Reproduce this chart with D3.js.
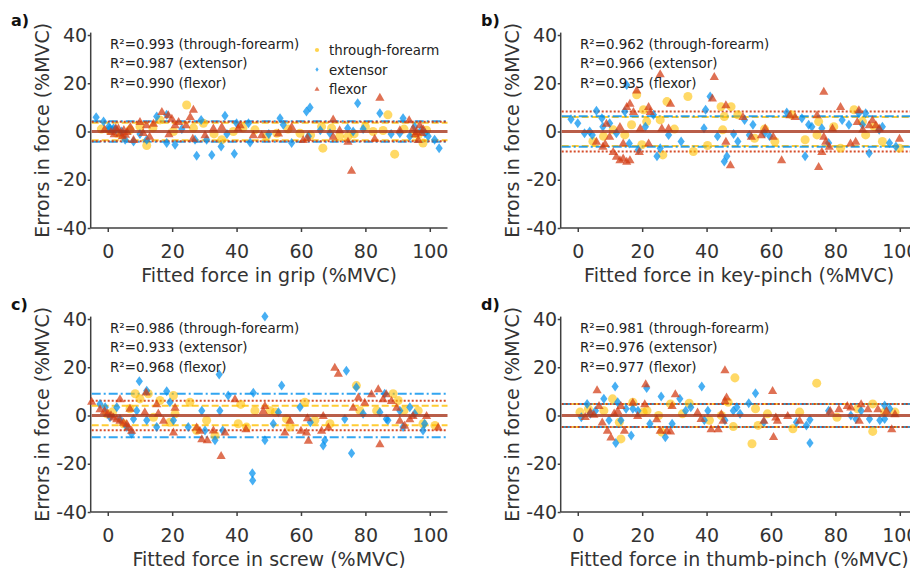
<!DOCTYPE html>
<html>
<head>
<meta charset="utf-8">
<script src="https://d3js.org/d3.v7.min.js"></script>
<style>
  body { margin: 0; background: #fff; }
  svg { font-family: "DejaVu Sans", sans-serif; display: block; }
  .axis path, .axis line { stroke: #404040; stroke-width: 1.5; }
  .axis text { fill: #333; font-size: 19px; font-family: "DejaVu Sans", sans-serif; }
</style>
</head>
<body>
<div id="chart"></div>
<script>
// ---- data: [fitted force, error] in %MVC ----
var panelNames = ["a)", "b)", "c)", "d)"];
var taskNames = ["grip", "key-pinch", "screw", "thumb-pinch"];
var seriesNames = ["through-forearm", "extensor", "flexor"];
var xTicks = [0, 20, 40, 60, 80, 100];
var yTicks = [-40, -20, 0, 20, 40];

var r2Forearm = ["0.993", "0.962", "0.986", "0.981"];
var r2Extensor = ["0.987", "0.966", "0.933", "0.976"];
var r2Flexor = ["0.990", "0.935", "0.968", "0.977"];

// limits of agreement (+/-)
var loaForearm = [3.6, 6.0, 4.0, 4.8];
var loaExtensor = [4.2, 6.3, 9.0, 4.8];
var loaFlexor = [4.0, 8.3, 6.1, 4.8];

var gripForearm = [[-2,1],[0.5,0.5],[2.8,-0.7],[4.5,-1.5],[6.9,0.7],[10,2],[12.1,-5.8],[14,1.5],[16.2,4.8],[20.4,0],[24.5,11],[26.6,1.4],[29.7,3.4],[33,-1],[35.4,-3.4],[39,0],[42,1.5],[45.7,0.7],[49.3,-2],[52.5,-0.7],[56,1],[59.7,-0.7],[63,-1.5],[66.4,2],[66.8,-6.9],[69.5,1.4],[72,-2],[74.6,-2],[76.5,-1],[80,2],[82.4,0],[85.5,0.4],[87,6.9],[89.1,-9.4],[92,1],[95,-1],[96.4,-1.4],[97.9,-4.8],[99,0.5]];
var gripExtensor = [[-3.6,5.9],[-1.3,4.1],[0.3,2],[0.7,1.4],[1.5,0.5],[1.8,1.4],[2.5,0.8],[4.3,0],[5.4,-3.4],[8,-4.1],[10,-1],[12.1,-3.4],[15.2,6.2],[18.3,6.9],[18.3,-4.8],[20.9,-5.5],[23,1],[27.1,-3.4],[27.6,-10],[29,4.8],[30.7,-3.4],[32.3,-9.7],[35.2,-6.2],[36.4,6.5],[37,-1],[39.3,-9.2],[40,3.4],[43.7,3.4],[44.2,-4.6],[50,-1],[53.5,5.5],[54.5,2.8],[57.1,-4.8],[61.7,8.3],[62.8,10],[62.3,-2],[66,0.5],[69,-0.7],[74.5,1.4],[76.2,0],[77.6,11.7],[79.3,1],[84.5,7.6],[88,-1],[90.7,-0.7],[91.7,5.5],[93.8,-2],[95.3,2],[97.4,0.7],[98.5,-0.7],[99.5,-2],[101.5,-3.4],[102.9,-6.9]];
var gripFlexor = [[-1,1],[1,0],[2,-1],[2.5,1.5],[3.3,1.4],[3.8,-0.7],[4.5,-1.8],[5,0.8],[5.5,-1.2],[6,0],[7,2],[8,-3.4],[10,4.1],[11,-0.5],[12,2.8],[13,-2],[14.2,3.4],[16.8,8.3],[18.8,6.9],[19.9,5.5],[19,-1],[20.9,2.8],[22,4.1],[24.3,2.8],[25.6,6.2],[26.6,9.2],[26.4,-2.8],[30.2,-1.4],[32.8,1.4],[35.4,2],[40.5,1.4],[41.1,2.8],[45.2,-1.4],[47.8,-1.4],[53,-0.7],[57.1,2],[60.7,-3.4],[62,-2.5],[70,5.1],[70,-2],[72,0.7],[74.6,-4.1],[75.7,-16.1],[82.9,-2.8],[84.5,14.2],[90.7,0.7],[93.6,4.8],[94.8,1.4],[95.5,-1],[95.9,0],[96.4,-3.4],[96.9,2.8],[97.5,-0.5],[98,1]];

var keyForearm = [[4.7,-4.1],[8,-2],[11,0.7],[14.6,-1.4],[16.7,2.8],[18.3,15.2],[19.9,-5.5],[20.4,9],[21.4,4.1],[25.6,4.8],[26.4,-9.7],[27.7,12.4],[30,1],[34.2,14.5],[35.9,-8.3],[40.3,-5.8],[44.5,10.3],[45,0.7],[45.5,6.2],[47.6,10.3],[49.7,6.9],[54.9,-2.8],[58,1],[61.2,-4.1],[66.4,6.9],[70.6,-3.4],[74.3,-1.4],[74.8,4.1],[79.5,2],[81.6,-6.9],[85.8,9],[88.4,4.1],[89.4,-1.4],[92,2],[94.6,-4.1],[99.9,-6.9]];
var keyExtensor = [[-2.1,5.1],[0,3.4],[2.1,-0.7],[3.7,0],[4.5,-1.5],[5.8,8.6],[7.5,5.5],[7.8,2],[9.9,3.4],[12,-0.7],[14.6,8.3],[15.2,19.3],[16,-5],[18.8,-7.6],[21,2],[23.5,6.9],[24.6,-10.3],[25.6,-6.9],[28.2,-1.4],[32.1,-4.1],[39.2,1.4],[39.7,9],[41.1,14.5],[43.4,-2],[45.5,-12.4],[46.3,-10.3],[48.4,-1],[49.7,-4.1],[51.8,4.8],[53.3,-1.4],[54.4,2.8],[58,-0.7],[59.6,-2],[64.9,7.9],[69.6,5.5],[70.6,-10.3],[71.7,2.8],[72.7,2],[75.8,1.4],[77.9,-4.8],[82.1,4.8],[84.2,2.8],[87.3,7.6],[88.4,2.8],[89.4,7.6],[90.5,-9],[93.6,0.7],[94.6,2],[96.8,-4.8],[98.8,-6.2]];
var keyFlexor = [[5.8,-4.1],[7.8,-6.2],[8.5,-5],[8.9,3.4],[9.9,-2],[11,-8.3],[12,-10.3],[13.1,-11.7],[13.1,2],[14.1,-11],[14.1,-4.8],[15.2,-12.4],[15.2,10.3],[16.2,-11.7],[16.2,11.7],[17.3,8.3],[18.3,17.2],[19.1,-8.3],[19.4,1.4],[22,-4.8],[22,10.3],[22.5,8.3],[25.6,23.9],[26.1,1.4],[28.2,1.4],[28.8,11.7],[41.8,13.8],[42.4,22.8],[46,11],[46,-4.1],[47.4,-13.8],[51.3,6.2],[53.9,-2],[57,-1.4],[58.2,1.4],[60.7,-2],[63.3,-11.7],[65.9,6.9],[67.5,6.2],[74.3,6.9],[74.8,-14.5],[75.8,-8.3],[76.4,16.6],[76.4,-2],[77,-4.1],[78.1,-6.2],[79.1,1.4],[81.6,10.3],[84.7,-4.8],[86.3,-4.1],[86.8,4.1],[87.3,9],[88.5,1],[90.5,2.8],[91.5,4.8],[92.6,2.8],[93.6,1.4],[99.9,-2.8]];

var screwForearm = [[-0.3,0.7],[1.5,1.5],[4.9,-3.4],[6.9,2.8],[8.5,9],[10,6.9],[12.6,9],[14.2,-0.7],[16.2,6.2],[19.3,-2.8],[20.4,8.3],[20.9,0.7],[25.5,5.5],[27.6,-6.2],[30.7,-2],[33.3,-8.3],[40.5,-3.4],[41.3,4.6],[43.1,-4.8],[45.7,2],[50.4,2],[52,1.4],[55.5,-1.4],[56.6,-4.8],[61.2,5.5],[64.3,-2],[69,-3.4],[77.2,12.4],[78.3,2],[83.5,2],[88.6,9],[90.2,6.2],[92,2],[96.4,2],[97.9,-3.4],[101.6,-4.1]];
var screwExtensor = [[-2.4,4.8],[-0.8,3.4],[0.7,-0.7],[2.8,3.4],[3.8,-1.4],[5.9,-4.8],[7.4,-7.6],[8,-1.4],[9,2],[9.8,14.2],[12.1,10.3],[12.1,-2],[15.2,-4.8],[18.3,10.1],[19.3,5.5],[20.4,-2],[25,-4.8],[29.2,2],[30.2,-6.2],[33.3,-10.3],[34.8,2],[34.6,17],[35.7,-6.2],[37.4,8.3],[44.9,-23.9],[45,-26.9],[45.2,9.4],[48.8,41],[48.8,-10.3],[51.4,-3.4],[53,1.4],[54,12.4],[59.7,3.4],[62.9,-2.8],[66.9,-12.4],[67.4,-10.3],[73.6,-1.4],[74.1,18.6],[75.7,-15.6],[77.2,11.7],[79.3,0.7],[84.5,1.4],[86,9],[86.5,-1.4],[87,-2],[90.7,2],[91.7,-4.8],[93.8,3.4],[95.3,0.7],[97.9,-6.2],[98.4,-3.4]];
var screwFlexor = [[-5,5.9],[-2.4,2.8],[-1,2],[0,1],[1,0.3],[1.8,-0.7],[2.8,-1.4],[3.8,-2],[3.8,6.9],[4.9,-2.8],[5.9,-3.4],[6.4,-4.8],[6.9,3],[7.4,-6.2],[11.9,9.7],[11.5,1.5],[15.2,4.8],[15.7,1],[17.3,-2],[20.4,-6.9],[20.9,3.4],[27.6,-4.8],[28.6,-6.2],[29.2,-9.7],[30.9,-10.1],[32.8,-6],[35.2,-16.6],[36.4,-6.9],[39.5,6.9],[42.9,-5.5],[48.3,2],[48.8,4.1],[55,-6.9],[56.6,-2],[60,-6.2],[61.7,-6.9],[62.3,-10.3],[62,-1],[66.4,-6.2],[66.9,0],[68.5,-4.8],[70.5,20],[71.6,17.5],[76.2,3.4],[77.8,7.6],[79.8,5.5],[81.9,9],[84,11],[84.5,-11.7],[85.5,6.9],[86.5,9],[88.1,6.2],[89.7,3.4],[90.7,-2],[92.2,-4.1],[93.8,-1.4],[94.8,0],[99,0],[102.6,-4.8]];

var thumbForearm = [[0.7,1.4],[3.3,2.7],[8.1,2],[10.8,6.9],[12.9,-2.8],[13.4,-9.7],[17.1,5.5],[20.3,1.4],[21.5,2],[25.1,0],[26.1,-6.9],[28.8,4.8],[32.5,0.7],[34.6,5.1],[40.9,-2],[44.6,0],[46.7,5.5],[48.3,-4.6],[48.8,15.6],[54.1,-11.7],[55.2,2.8],[56,-4.1],[58.9,0.7],[66.8,-5.5],[68.9,1.4],[74.2,13.4],[80.5,-0.7],[86.9,2.8],[91.6,4.8],[91.6,-6.6],[95.3,1.4],[98.5,1.4]];
var thumbExtensor = [[1.1,-0.7],[2.9,4.8],[3.9,0.7],[5.5,2],[8.1,6.9],[9.7,-2],[11.6,12],[11.8,-11.4],[12.4,5.5],[13.4,-2],[15,2.8],[16.6,-8.3],[17.1,2.8],[18.7,2],[21.4,11.4],[22.4,-3.4],[25.9,7.9],[27.2,-9],[29.3,-3.4],[31.7,6.9],[33.5,2],[35.1,3.4],[38.5,12],[39.3,-2],[40.4,2],[45.7,-2],[48.3,2],[49.4,3.4],[50.4,0.7],[53.1,5.1],[55.2,9.2],[57.8,-2.8],[67.9,-2.8],[71,-4.1],[72.1,-1.8],[72.1,-11.4],[77.9,2],[84.8,0],[86.4,-1.4],[88,2],[90.6,-1.4],[93.8,-2],[95.3,4.1],[95.3,-1.4],[96.9,2.8]];
var thumbFlexor = [[2.3,-0.5],[3.9,1.5],[5,0.5],[6,10.6],[6.6,4.1],[7.6,-2.7],[9.2,-6.2],[10.3,-9],[11.3,1],[12.4,2],[13.4,4.1],[14.5,-6.2],[17.1,5.5],[18.6,0],[20.8,4.8],[21.1,13.1],[24.5,-1.4],[25.6,-6.2],[27.7,-6.2],[28.8,-6.5],[29.3,4.1],[30.3,9],[37.2,1.4],[38.3,-1.3],[41.4,-5.5],[43.6,-5.5],[44.6,0.7],[45.1,-2],[45.7,18.9],[45.7,6.2],[46.2,7.6],[57.8,-2],[60.5,10.3],[60.8,-8.7],[61.5,-0.7],[62,-2],[65.2,0],[68.9,-2],[78.4,2],[81.1,2.8],[83.7,4.1],[84.8,3.5],[87.4,-2],[88,4.8],[90.1,2.8],[93.2,2.8],[95.9,2],[97.5,-5.5],[98.5,0.7]];

var forearmData = [gripForearm, keyForearm, screwForearm, thumbForearm];
var extensorData = [gripExtensor, keyExtensor, screwExtensor, thumbExtensor];
var flexorData = [gripFlexor, keyFlexor, screwFlexor, thumbFlexor];

// ---- layout ----
var W = 910, H = 568;
var originX = [0, 470, 0, 470], originY = [0, 0, 284, 284];

var colors = { forearm: "#ffc000", extensor: "#0090ee", flexor: "#d23a12" };

var svg = d3.select("#chart").append("svg")
    .attr("width", W).attr("height", H);

var x = d3.scaleLinear().domain([-5.3, 105.5]).range([90.7, 447.5]);
var y = d3.scaleLinear().domain([-40, 41]).range([228, 32.6]);

// marker shapes
var circlePath = d3.symbol(d3.symbolCircle, 64);
function diamond(s) { return "M0," + (-5 * s) + "L" + (3.6 * s) + ",0L0," + (5 * s) + "L" + (-3.6 * s) + ",0Z"; }
function triangle(s) { return "M0," + (-4.6 * s) + "L" + (4.6 * s) + "," + (3.4 * s) + "L" + (-4.6 * s) + "," + (3.4 * s) + "Z"; }

panelNames.forEach(function(name, i) {
    var g = svg.append("g").attr("transform", "translate(" + originX[i] + "," + originY[i] + ")");

    // axes
    g.append("g").attr("class", "axis")
        .attr("transform", "translate(0," + y(-40) + ")")
        .call(d3.axisBottom(x).tickValues(xTicks).tickSize(4).tickSizeOuter(0).tickPadding(12.5))
        .call(function(a) { a.select(".domain").attr("d", "M" + x.range()[0] + ",0H" + x.range()[1]); });

    // plain hyphen for negatives, as in the figure
    g.append("g").attr("class", "axis")
        .attr("transform", "translate(" + x.range()[0] + ",0)")
        .call(d3.axisLeft(y).tickValues(yTicks).tickSize(3).tickSizeOuter(0).tickPadding(0.5)
            .tickFormat(function(d) { return String(d); }))
        .call(function(a) { a.select(".domain").attr("d", "M0," + y.range()[1] + "V" + y.range()[0]); });

    // limits of agreement
    var loas = [
        { v: loaForearm[i], c: colors.forearm, dash: "7,3", op: 0.8 },
        { v: loaExtensor[i], c: colors.extensor, dash: "9,3,2,3", op: 0.8 },
        { v: loaFlexor[i], c: colors.flexor, dash: "2,2", op: 0.9 }
    ];
    loas.forEach(function(l) {
        [l.v, -l.v].forEach(function(v) {
            g.append("line")
                .attr("x1", x.range()[0] + 1).attr("x2", x.range()[1])
                .attr("y1", y(v)).attr("y2", y(v))
                .attr("stroke", l.c).attr("stroke-width", 2)
                .attr("stroke-dasharray", l.dash).attr("opacity", l.op);
        });
    });

    // points: forearm, extensor, flexor
    g.append("g").selectAll("path").data(forearmData[i]).enter().append("path")
        .attr("d", circlePath)
        .attr("transform", function(d) { return "translate(" + x(d[0]) + "," + y(d[1]) + ")"; })
        .attr("fill", colors.forearm).attr("fill-opacity", 0.6);

    g.append("g").selectAll("path").data(extensorData[i]).enter().append("path")
        .attr("d", diamond(1))
        .attr("transform", function(d) { return "translate(" + x(d[0]) + "," + y(d[1]) + ")"; })
        .attr("fill", colors.extensor).attr("fill-opacity", 0.72);

    g.append("g").selectAll("path").data(flexorData[i]).enter().append("path")
        .attr("d", triangle(1))
        .attr("transform", function(d) { return "translate(" + x(d[0]) + "," + y(d[1]) + ")"; })
        .attr("fill", colors.flexor).attr("fill-opacity", 0.72);

    // mean line
    g.append("line")
        .attr("x1", x.range()[0] + 1).attr("x2", x.range()[1])
        .attr("y1", y(0)).attr("y2", y(0))
        .attr("stroke", "#a8361c").attr("stroke-width", 3).attr("opacity", 0.8);

    // r-squared notes
    var notes = [
        "R\u00b2=" + r2Forearm[i] + " (through-forearm)",
        "R\u00b2=" + r2Extensor[i] + " (extensor)",
        "R\u00b2=" + r2Flexor[i] + " (flexor)"
    ];
    g.selectAll(".note").data(notes).enter().append("text")
        .attr("class", "note")
        .attr("x", 110).attr("y", function(d, k) { return 48.5 + k * 19.5; })
        .attr("font-size", "13.4px").attr("fill", "#222")
        .text(function(d) { return d; });

    // titles
    g.append("text")
        .attr("x", (x.range()[0] + x.range()[1]) / 2).attr("y", 281.5)
        .attr("text-anchor", "middle").attr("font-size", "19px").attr("fill", "#333")
        .text("Fitted force in " + taskNames[i] + " (%MVC)");

    g.append("text")
        .attr("transform", "translate(48.5," + ((y.range()[0] + y.range()[1]) / 2) + ") rotate(-90)")
        .attr("text-anchor", "middle").attr("font-size", "19px").attr("fill", "#333")
        .text("Errors in force (%MVC)");

    g.append("text")
        .attr("x", 11).attr("y", 26)
        .attr("font-size", "16px").attr("font-weight", "bold").attr("fill", "#111")
        .text(name);
});

// legend (panel a)
var legend = svg.append("g");
var legendShapes = [circlePath.size(14)(), diamond(0.45), triangle(0.55)];
var legendColors = [colors.forearm, colors.extensor, colors.flexor];
seriesNames.forEach(function(s, k) {
    legend.append("path")
        .attr("d", legendShapes[k])
        .attr("transform", "translate(317," + (50 + k * 19.5) + ")")
        .attr("fill", legendColors[k]).attr("fill-opacity", 0.7);
    legend.append("text")
        .attr("x", 329).attr("y", 55 + k * 19.5)
        .attr("font-size", "13.4px").attr("fill", "#222")
        .text(s);
});
</script>
</body>
</html>
